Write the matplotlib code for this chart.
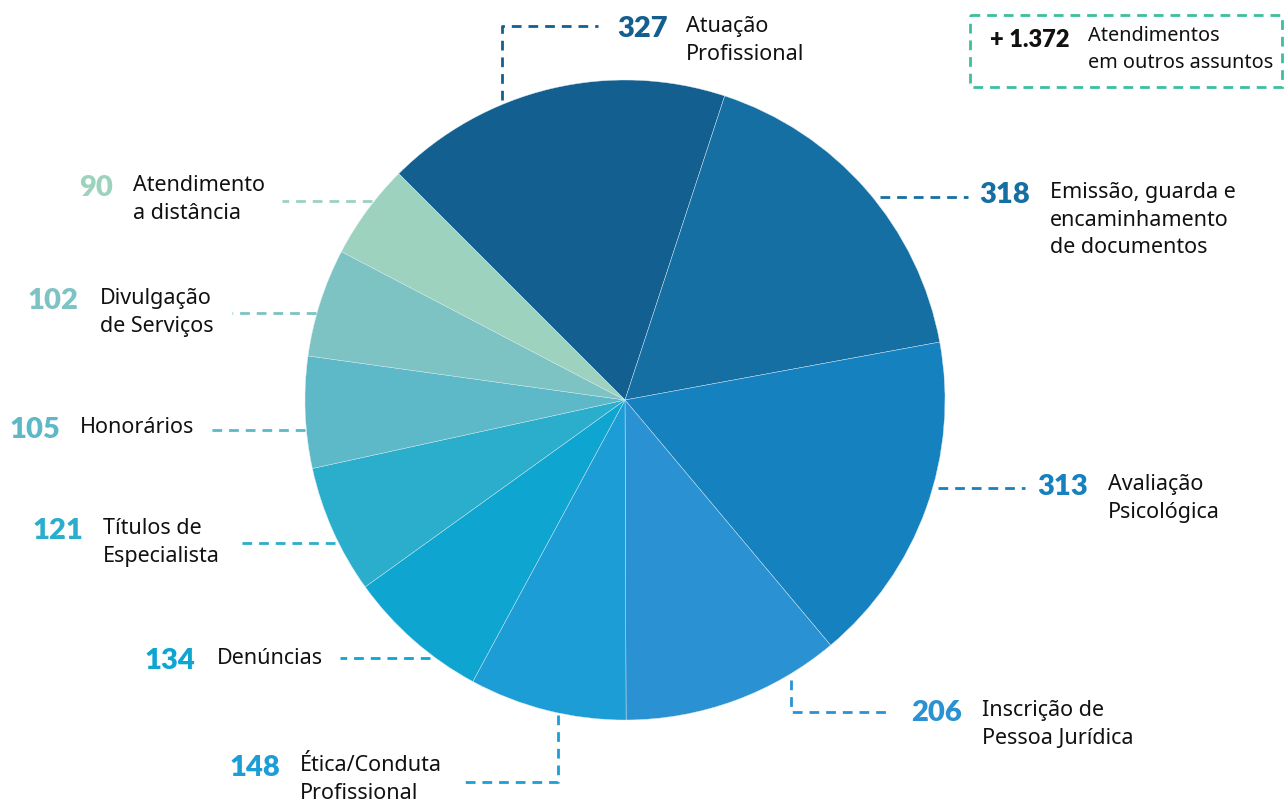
import matplotlib
matplotlib.use("Agg")
import matplotlib.pyplot as plt
from matplotlib.patches import Rectangle

# data
categories = ["Atuação\nProfissional", "Emissão, guarda e\nencaminhamento\nde documentos",
              "Avaliação\nPsicológica", "Inscrição de\nPessoa Jurídica",
              "Ética/Conduta\nProfissional", "Denúncias", "Títulos de\nEspecialista",
              "Honorários", "Divulgação\nde Serviços", "Atendimento\na distância"]
values = [327, 318, 313, 206, 148, 134, 121, 105, 102, 90]
colors = ["#135f8f", "#166fa3", "#1581bf", "#2a92d2", "#1d9dd5",
          "#0ea5d1", "#2aaecb", "#5db8c8", "#7dc3c3", "#9dd2bf"]
others_value = "+ 1.372"
others_label = "Atendimentos\nem outros assuntos"

# layout (pixel coords): leader line path, number right edge, label left x, label top y
leaders = [
    ([(502, 100), (502, 26), (598, 26)], 668, 686, 12),
    ([(880, 197), (968, 197)], 1030, 1050, 178),
    ([(938, 488), (1025, 488)], 1088, 1108, 470),
    ([(791, 680), (791, 712), (890, 712)], 962, 982, 696),
    ([(558, 715), (558, 782), (460, 782)], 280, 300, 751),
    ([(430, 658), (340, 658)], 195, 217, 644),
    ([(335, 543), (240, 543)], 83, 103, 514),
    ([(305, 430), (210, 430)], 60, 80, 413),
    ([(316, 313), (232, 313)], 78, 100, 284),
    ([(372, 201), (282, 201)], 113, 133, 171),
]

W, H = 1284, 805
fig = plt.figure(figsize=(W / 100, H / 100), dpi=100)
ax = fig.add_axes([0, 0, 1, 1])

# y axis is flipped below, so the pie angles are mirrored here
ax.pie(values, colors=colors, startangle=-135, counterclock=True,
       center=(625, 400), radius=320, frame=True,
       wedgeprops=dict(linewidth=0.3, edgecolor='#d6e9f3'))
ax.set_xlim(0, W)
ax.set_ylim(H, 0)
ax.set_aspect('equal')
ax.axis('off')

label_font = ['Noto Sans', 'DejaVu Sans']
num_font = ['Lato', 'DejaVu Sans']

for (path, num_x, lab_x, lab_y), val, lab, col in zip(leaders, values, categories, colors):
    xs = [p[0] for p in path]
    ys = [p[1] for p in path]
    ax.plot(xs, ys, color=col, lw=2, ls=(0, (3.5, 2.5)), solid_capstyle='butt')
    ax.text(num_x, lab_y + 17, str(val), color=col, fontsize=21, fontweight='heavy',
            family=num_font, ha='right', va='center')
    ax.text(lab_x, lab_y + 4, lab, color='#111111', fontsize=15.5, family=label_font,
            ha='left', va='top', linespacing=1.42)

# others box
ax.add_patch(Rectangle((970, 15), 312, 72, fill=False, edgecolor='#3cbf9f',
                       lw=2, ls=(0, (3.5, 2.5))))
ax.text(1070, 40, others_value, color='#111111', fontsize=17, fontweight='heavy',
        family=num_font, ha='right', va='center')
ax.text(1088, 26, others_label, color='#111111', fontsize=14.3, family=label_font,
        ha='left', va='top', linespacing=1.45)

fig.savefig("out.png", dpi=100, facecolor='white')
